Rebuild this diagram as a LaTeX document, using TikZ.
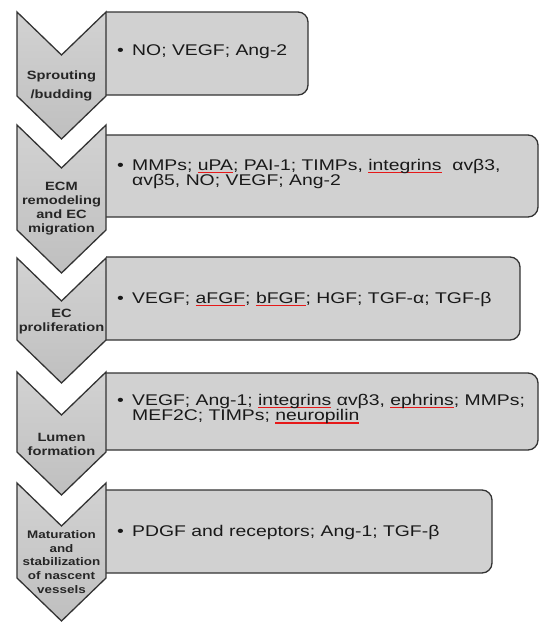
\documentclass[tikz,border=0pt]{standalone}
\usepackage{fontspec}
\setmainfont{Liberation Sans}
\newfontfamily\itemfont{Liberation Sans}[FakeStretch=1.25]
\newfontfamily\stagefont{Liberation Sans}[FakeStretch=1.22]
\definecolor{spellred}{RGB}{230,25,25}
\newsavebox{\spellbox}
\newcommand{\spellmark}[1]{\sbox{\spellbox}{#1}\leavevmode
  \rlap{\textcolor{spellred}{\rule[-3.2pt]{\wd\spellbox}{1.5pt}}}\usebox{\spellbox}}

\begin{document}
\begin{tikzpicture}[x=1pt, y=-1pt,
  chevron/.style={draw=black!80, line width=1.3pt, line join=miter,
    top color=gray!35, middle color=gray!4, bottom color=gray!50},
  stagebox/.style={draw=black!80, line width=1.3pt, fill=gray!36, rounded corners=10pt},
  stagelabel/.style={font=\stagefont\bfseries\fontsize{12}{14}\selectfont,
    align=center, text=black!85, inner sep=0pt},
  itemtext/.style={font=\itemfont\fontsize{15.5}{14.3}\selectfont,
    align=left, anchor=west, text=black!90, inner sep=0pt}]
\def\xL{17}
\def\xM{61.5}
\def\xR{106}
\def\d{43}
\useasboundingbox (0,0) rectangle (539,622);

% Boxes (top / bottom / right), left side hidden behind the chevrons
\begin{scope}
\clip (\xR,0) rectangle (539,622);
\foreach \t/\b/\r in {12/95/308, 135/217/538, 257/340/520, 373/450/538, 490/573/492}
  \draw[stagebox] (\xR-20,\t) rectangle (\r,\b);
\end{scope}

% Chevrons (top / bottom of the straight sides)
\foreach \t/\b in {12/96, 125/230, 258/340, 372/452, 483/578}
  \path[chevron] (\xL,\t) -- (\xM,\t+\d) -- (\xR,\t) -- (\xR,\b) -- (\xM,\b+\d) -- (\xL,\b) -- cycle;

% Stage names
\node[stagelabel] (sprout) at (\xM,86) {Sprouting\\[5pt]/budding};
\node[stagelabel] (ecm) at (\xM,209) {ECM\\remodeling\\and EC\\migration};
\node[stagelabel] (prolif) at (\xM,322) {EC\\proliferation};
\node[stagelabel] (lumen) at (\xM,444) {Lumen\\formation};
\node[stagelabel, font=\stagefont\bfseries\fontsize{11}{13.6}\selectfont] (mature) at (\xM,562)
  {Maturation\\and\\stabilization\\of nascent\\vessels};

% Factors
\node[itemtext] (sproutitems) at (117,52) {\makebox[15pt][l]{•}NO; VEGF; Ang-2};
\node[itemtext] (ecmitems) at (117,174)
  {\makebox[15pt][l]{•}MMPs; \spellmark{uPA}; PAI-1; TIMPs, \spellmark{integrins}\ \ αvβ3,\\
   \hspace*{15pt}αvβ5, NO; VEGF; Ang-2};
\node[itemtext] (prolifitems) at (117,299)
  {\makebox[15pt][l]{•}VEGF; \spellmark{aFGF}; \spellmark{bFGF}; HGF; TGF-α; TGF-β};
\node[itemtext] (lumenitems) at (117,409)
  {\makebox[15pt][l]{•}VEGF; Ang-1; \spellmark{integrins} αvβ3, \spellmark{ephrins}; MMPs;\\
   \hspace*{15pt}MEF2C; TIMPs; \spellmark{neuropilin}};
\node[itemtext] (matureitems) at (117,532) {\makebox[15pt][l]{•}PDGF and receptors; Ang-1; TGF-β};

\end{tikzpicture}
\end{document}
